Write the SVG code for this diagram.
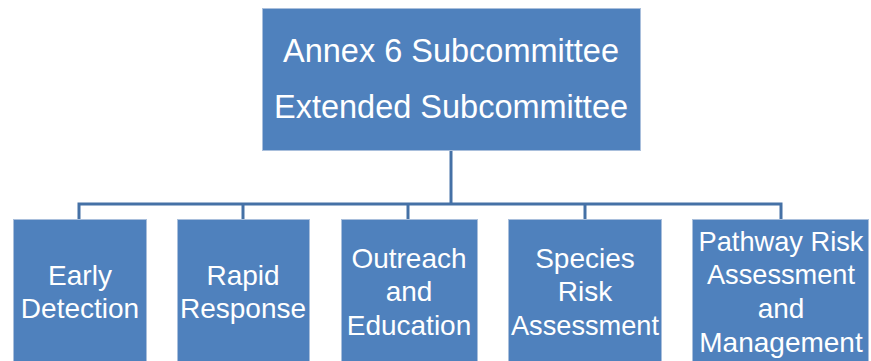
<svg xmlns="http://www.w3.org/2000/svg" width="871" height="361" viewBox="0 0 871 361">
<style>
.box{fill:#4F81BD;stroke:#A9BFDC;stroke-width:1}
.t{font-family:"Liberation Sans",Arial,sans-serif;fill:#FFFFFF;text-anchor:middle}
.top{font-size:32.5px}
.sub{font-size:28px}
.conn{fill:none;stroke:#4571A6;stroke-width:3}
</style>
<rect width="871" height="361" fill="#FFFFFF"/>
<g id="connectors">
<path class="conn" d="M451,151 V204"/>
<path class="conn" d="M79,219 V204 H781 V219"/>
<path class="conn" d="M243,204 V219"/>
<path class="conn" d="M408,204 V219"/>
<path class="conn" d="M585,204 V219"/>
</g>
<g id="annex6">
<rect class="box" x="262.5" y="8.5" width="378" height="142"/>
<text class="t top" x="451" y="62">Annex 6 Subcommittee</text>
<text class="t top" x="451" y="118">Extended Subcommittee</text>
</g>
<g id="early">
<rect class="box" x="13.5" y="219.5" width="133" height="150"/>
<text class="t sub" x="80" y="285">Early</text>
<text class="t sub" x="80" y="318">Detection</text>
</g>
<g id="rapid">
<rect class="box" x="177.5" y="219.5" width="132" height="150"/>
<text class="t sub" x="243" y="285">Rapid</text>
<text class="t sub" x="243" y="318">Response</text>
</g>
<g id="outreach">
<rect class="box" x="341.5" y="219.5" width="136" height="150"/>
<text class="t sub" x="409" y="268">Outreach</text>
<text class="t sub" x="409" y="301">and</text>
<text class="t sub" x="409" y="335">Education</text>
</g>
<g id="species">
<rect class="box" x="508.5" y="219.5" width="153" height="150"/>
<text class="t sub" x="585" y="268">Species</text>
<text class="t sub" x="585" y="301">Risk</text>
<text class="t sub" x="585" y="335" textLength="148" lengthAdjust="spacingAndGlyphs">Assessment</text>
</g>
<g id="pathway">
<rect class="box" x="692.5" y="219.5" width="176" height="150"/>
<text class="t sub" x="781" y="251" textLength="165" lengthAdjust="spacingAndGlyphs">Pathway Risk</text>
<text class="t sub" x="781" y="284" textLength="148" lengthAdjust="spacingAndGlyphs">Assessment</text>
<text class="t sub" x="781" y="318">and</text>
<text class="t sub" x="781" y="352">Management</text>
</g>
</svg>
